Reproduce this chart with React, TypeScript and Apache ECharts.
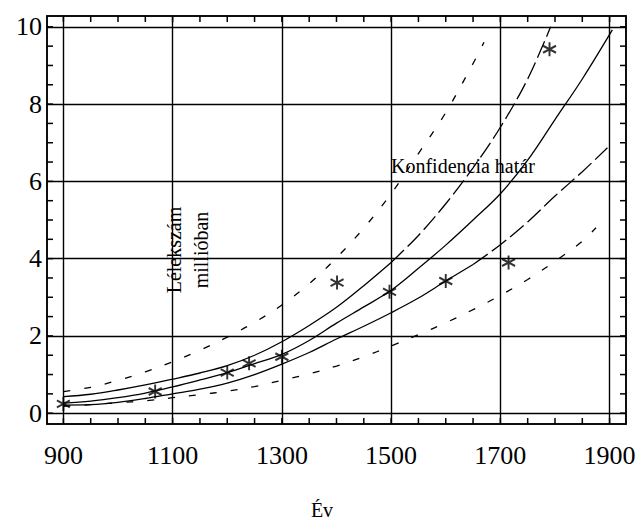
import React, { useEffect, useRef } from "react";
import * as echarts from "echarts";

// ---- axis extents, tick / label values ----
const X_MIN = 870;
const X_MAX = 1930;
const Y_MIN = -0.28;
const Y_MAX = 10.28;
const xLabelValues = [900, 1100, 1300, 1500, 1700, 1900];
const xTickValues = [900, 950, 1000, 1050, 1100, 1150, 1200, 1250, 1300, 1350, 1400, 1450, 1500, 1550, 1600, 1650, 1700, 1750, 1800, 1850, 1900];
const yLabelValues = [0, 2, 4, 6, 8, 10];
const yTickValues = [0, 0.5, 1, 1.5, 2, 2.5, 3, 3.5, 4, 4.5, 5, 5.5, 6, 6.5, 7, 7.5, 8, 8.5, 9, 9.5, 10];
const xGridValues = [900, 1100, 1300, 1500, 1700, 1900];
const yGridValues = [0, 2, 4, 6, 8, 10];

// ---- observed population (millions) ----
const observed: [number, number][] = [
  [900, 0.24], [1068, 0.56], [1200, 1.05], [1240, 1.29], [1300, 1.46],
  [1401, 3.38], [1497, 3.14], [1600, 3.42], [1715, 3.9], [1790, 9.42],
];

// ---- fitted curve ----
const fitCurve: [number, number][] = [
  [900, 0.26], [950, 0.31], [1000, 0.4], [1050, 0.52], [1100, 0.68], [1150, 0.86],
  [1200, 1.05], [1250, 1.28], [1300, 1.52], [1350, 1.88], [1400, 2.33], [1450, 2.75],
  [1500, 3.18], [1550, 3.75], [1600, 4.35], [1650, 5.0], [1700, 5.68], [1750, 6.55],
  [1800, 7.6], [1850, 8.65], [1905, 9.92],
];

// ---- inner upper band ----
const innerUpperSolid: [number, number][] = [
  [900, 0.43], [950, 0.49], [1000, 0.6], [1050, 0.73], [1100, 0.88], [1150, 1.04],
  [1200, 1.23], [1250, 1.5], [1300, 1.85], [1350, 2.27], [1400, 2.74], [1450, 3.3],
  [1500, 3.9],
];
const innerUpperDashed: [number, number][] = [
  [1500, 3.9], [1550, 4.6], [1600, 5.42], [1650, 6.35], [1700, 7.4], [1750, 8.65], [1792, 10.0],
];

// ---- inner lower band ----
const innerLowerSolid: [number, number][] = [
  [900, 0.21], [950, 0.22], [1000, 0.28], [1050, 0.38], [1100, 0.5], [1150, 0.62],
  [1200, 0.78], [1250, 1.0], [1300, 1.27], [1350, 1.57], [1400, 1.92], [1450, 2.25],
  [1500, 2.6], [1550, 2.98], [1600, 3.42], [1650, 3.85],
];
const innerLowerDashed: [number, number][] = [
  [1650, 3.85], [1700, 4.36], [1750, 4.95], [1800, 5.62], [1850, 6.25], [1896, 6.87],
];

// ---- outer (prediction) band ----
const outerUpper: [number, number][] = [
  [900, 0.56], [950, 0.67], [1000, 0.85], [1050, 1.07], [1100, 1.33], [1150, 1.63],
  [1200, 1.97], [1250, 2.35], [1300, 2.8], [1350, 3.35], [1400, 4.02], [1450, 4.79],
  [1500, 5.68], [1550, 6.72], [1600, 7.78], [1650, 9.05], [1670, 9.6],
];
const outerLower: [number, number][] = [
  [900, 0.18], [950, 0.22], [1000, 0.27], [1050, 0.32], [1100, 0.4], [1150, 0.48],
  [1200, 0.57], [1250, 0.69], [1300, 0.85], [1350, 1.02], [1400, 1.22], [1450, 1.46],
  [1500, 1.74], [1550, 2.03], [1600, 2.34], [1650, 2.68], [1700, 3.05], [1750, 3.46],
  [1800, 3.93], [1850, 4.45], [1875, 4.8],
];

const FONT = '"Liberation Serif", "DejaVu Serif", serif';
const ASTERISK = "path://M0,-10 L0,10 M-8.66,-5 L8.66,5 M-8.66,5 L8.66,-5";
const TICK_LEN = 6;

function lineSeries(data: [number, number][], type: any) {
  return {
    type: "line",
    data,
    showSymbol: false,
    symbol: "none",
    smooth: 0.35,
    silent: true,
    lineStyle: { color: "#000", width: 1.3, type },
    z: 3,
  };
}

export default function App() {
  const ref = useRef<HTMLDivElement>(null);
  useEffect(() => {
    if (!ref.current) return;
    const chart = echarts.init(ref.current, null, { renderer: "svg" });
    const xAxisBase = {
      type: "value",
      min: X_MIN,
      max: X_MAX,
      axisLine: { show: true, onZero: false, lineStyle: { color: "#000", width: 1.5 } },
      axisTick: { show: false },
      splitLine: { show: false },
    };
    const yAxisBase = {
      type: "value",
      min: Y_MIN,
      max: Y_MAX,
      axisLine: { show: true, onZero: false, lineStyle: { color: "#000", width: 1.5 } },
      axisTick: { show: false },
      splitLine: { show: false },
    };

    chart.setOption({
      animation: false,
      backgroundColor: "#fff",
      grid: { left: 47, right: 13, top: 16, bottom: 102, show: true, borderColor: "#000", borderWidth: 1.5 },
      xAxis: [
        {
          ...xAxisBase,
          position: "bottom",
          axisLabel: {
            show: true,
            customValues: xLabelValues,
            formatter: (v: number) => String(v),
            margin: 18,
            color: "#000",
            fontSize: 26,
            fontFamily: FONT,
          },
        },
        { ...xAxisBase, position: "top", axisLabel: { show: false } },
      ],
      yAxis: [
        {
          ...yAxisBase,
          position: "left",
          axisLabel: {
            show: true,
            customValues: yLabelValues,
            formatter: (v: number) => String(v),
            margin: 5,
            color: "#000",
            fontSize: 26,
            fontFamily: FONT,
            padding: [0, 0, 8, 0],
          },
        },
        { ...yAxisBase, position: "right", axisLabel: { show: false } },
      ],
      series: [
        {
          ...lineSeries(fitCurve, "solid"),
          markLine: {
            silent: true,
            symbol: ["none", "none"],
            label: { show: false },
            lineStyle: { color: "#000", width: 1.4, type: "solid" },
            data: [
              ...xGridValues.map((v) => ({ xAxis: v })),
              ...yGridValues.map((v) => ({ yAxis: v })),
            ],
          },
        },
        lineSeries(innerUpperSolid, "solid"),
        lineSeries(innerUpperDashed, [18, 5]),
        lineSeries(innerLowerSolid, "solid"),
        lineSeries(innerLowerDashed, [18, 5]),
        lineSeries(outerUpper, [7, 14]),
        lineSeries(outerLower, [7, 14]),
        {
          type: "scatter",
          data: observed,
          symbol: ASTERISK,
          symbolSize: [13, 14],
          silent: true,
          itemStyle: { color: "transparent", borderColor: "#000", borderWidth: 2 },
          z: 5,
        },
      ],
    });

    // inward ticks on all four frame edges, positioned through the chart's own scales
    const toPx = (p: [number, number]) => chart.convertToPixel({ gridIndex: 0 }, p) as number[];
    const tickStyle = { stroke: "#000", lineWidth: 1.5 };
    const ticks: any[] = [];
    xTickValues.forEach((v) => {
      const b = toPx([v, Y_MIN]);
      const t = toPx([v, Y_MAX]);
      ticks.push({ type: "line", silent: true, z: 20, shape: { x1: b[0], y1: b[1], x2: b[0], y2: b[1] - TICK_LEN }, style: { ...tickStyle } });
      ticks.push({ type: "line", silent: true, z: 20, shape: { x1: t[0], y1: t[1], x2: t[0], y2: t[1] + TICK_LEN }, style: { ...tickStyle } });
    });
    yTickValues.forEach((v) => {
      const l = toPx([X_MIN, v]);
      const r = toPx([X_MAX, v]);
      ticks.push({ type: "line", silent: true, z: 20, shape: { x1: l[0], y1: l[1], x2: l[0] + TICK_LEN, y2: l[1] }, style: { ...tickStyle } });
      ticks.push({ type: "line", silent: true, z: 20, shape: { x1: r[0], y1: r[1], x2: r[0] - TICK_LEN, y2: r[1] }, style: { ...tickStyle } });
    });

    chart.setOption({
      graphic: [
        {
          type: "text",
          x: 391,
          y: 166,
          style: { text: "Konfidencia határ", fontSize: 20, fontFamily: FONT, fill: "#000", align: "left", verticalAlign: "middle" },
          z: 10,
        },
        {
          type: "text",
          x: 187,
          y: 250,
          rotation: Math.PI / 2,
          style: { text: "Lélekszám\nmillióban", fontSize: 20, lineHeight: 27, fontFamily: FONT, fill: "#000", align: "center", verticalAlign: "middle" },
          z: 10,
        },
        {
          type: "text",
          x: 322,
          y: 510,
          style: { text: "Év", fontSize: 20, fontFamily: FONT, fill: "#000", align: "center", verticalAlign: "middle" },
          z: 10,
        },
        ...ticks,
      ],
    });
    return () => chart.dispose();
  }, []);
  return <div ref={ref} style={{ position: "fixed", left: 0, top: 0, width: 639, height: 526 }} />;
}
